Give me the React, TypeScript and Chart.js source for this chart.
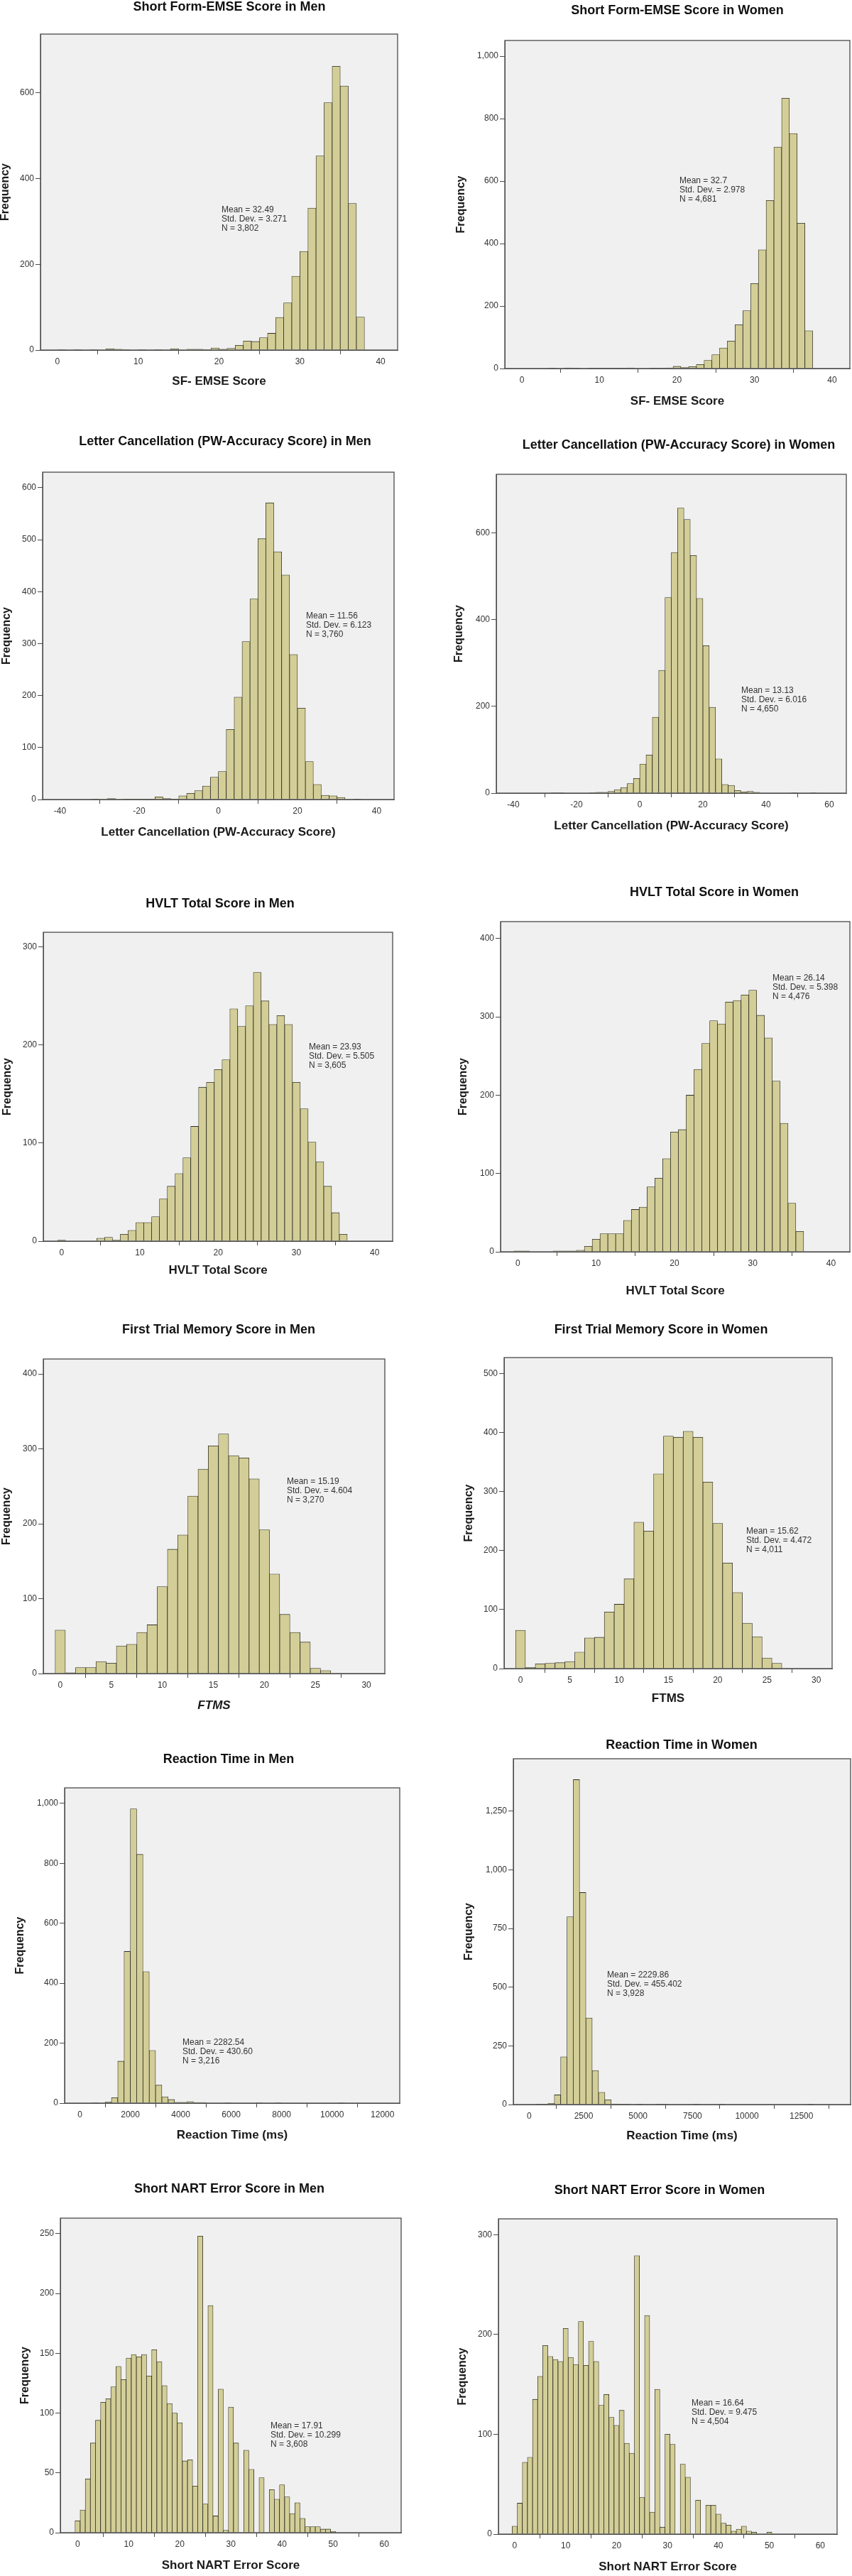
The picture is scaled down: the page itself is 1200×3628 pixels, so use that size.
import React, { useEffect, useRef } from "react";
import { Chart, registerables } from "chart.js";

Chart.register(...registerables);

const FONT = '"Liberation Sans", Arial, Helvetica, sans-serif';
const BAR_FILL = "#d3ce97";
const BAR_EDGE = "#2e2e22";
const PLOT_BG = "#f0f0f0";
const FRAME = "#4a4a4a";

// ---------------- data ----------------
// Short Form-EMSE
const sfMenBinStart = 0.5;
const sfMenBinWidth = 1;
const sfMenCounts = [1, 0, 1, 0, 1, 0, 3, 2, 1, 0, 1, 0, 1, 0, 3, 0, 2, 2, 1, 5, 2, 4, 11, 21, 20, 29, 39, 76, 110, 172, 230, 331, 453, 577, 662, 616, 342, 77];
const sfMenStats = ["Mean = 32.49", "Std. Dev. = 3.271", "N = 3,802"];
const sfMenXTicks = [0, 10, 20, 30, 40];
const sfMenYTicks = [0, 200, 400, 600];

const sfWomenBinStart = 0;
const sfWomenBinWidth = 1;
const sfWomenCounts = [0, 0, 0, 0, 1, 0, 2, 1, 0, 1, 1, 1, 1, 1, 2, 0, 0, 1, 1, 2, 7, 3, 6, 13, 26, 44, 66, 88, 140, 185, 272, 380, 538, 709, 865, 752, 465, 121];
const sfWomenStats = ["Mean = 32.7", "Std. Dev. = 2.978", "N = 4,681"];
const sfWomenXTicks = [0, 10, 20, 30, 40];
const sfWomenYTicks = [0, 200, 400, 600, 800, 1000];

// Letter Cancellation
const lcMenBinStart = -31;
const lcMenBinWidth = 2;
const lcMenCounts = [1, 0, 2, 0, 1, 1, 1, 1, 5, 2, 1, 7, 12, 17, 26, 43, 54, 135, 197, 304, 386, 502, 571, 477, 432, 279, 176, 73, 29, 8, 7, 4, 0, 1];
const lcMenStats = ["Mean = 11.56", "Std. Dev. = 6.123", "N = 3,760"];
const lcMenXTicks = [-40, -20, 0, 20, 40];
const lcMenYTicks = [0, 100, 200, 300, 400, 500, 600];

const lcWomenBinStart = -27;
const lcWomenBinWidth = 2;
const lcWomenCounts = [1, 1, 0, 0, 0, 0, 1, 2, 2, 4, 8, 13, 22, 34, 67, 88, 175, 283, 451, 555, 657, 631, 548, 449, 340, 198, 79, 20, 18, 6, 3, 4, 2, 0, 0, 0, 0, 0, 1, 0, 0, 1];
const lcWomenStats = ["Mean = 13.13", "Std. Dev. = 6.016", "N = 4,650"];
const lcWomenXTicks = [-40, -20, 0, 20, 40, 60];
const lcWomenYTicks = [0, 200, 400, 600];

// HVLT Total Score
const hvltMenBinStart = 0;
const hvltMenBinWidth = 1;
const hvltMenCounts = [1, 0, 0, 0, 0, 3, 4, 1, 7, 11, 19, 19, 25, 43, 56, 69, 85, 117, 157, 162, 175, 185, 237, 219, 240, 274, 245, 221, 230, 221, 162, 135, 101, 81, 56, 29, 7];
const hvltMenStats = ["Mean = 23.93", "Std. Dev. = 5.505", "N = 3,605"];
const hvltMenXTicks = [0, 10, 20, 30, 40];
const hvltMenYTicks = [0, 100, 200, 300];

const hvltWomenBinStart = 0;
const hvltWomenBinWidth = 1;
const hvltWomenCounts = [1, 1, 0, 0, 0, 1, 1, 1, 2, 7, 16, 23, 23, 23, 40, 54, 57, 83, 94, 119, 153, 156, 200, 233, 266, 295, 291, 319, 321, 328, 334, 302, 273, 218, 164, 62, 26];
const hvltWomenStats = ["Mean = 26.14", "Std. Dev. = 5.398", "N = 4,476"];
const hvltWomenXTicks = [0, 10, 20, 30, 40];
const hvltWomenYTicks = [0, 100, 200, 300, 400];

// First Trial Memory Score
const ftmsMenBinStart = 0;
const ftmsMenBinWidth = 1;
const ftmsMenCounts = [58, 1, 8, 8, 16, 14, 37, 39, 55, 65, 116, 166, 185, 237, 273, 304, 320, 291, 288, 260, 192, 133, 79, 55, 42, 7, 4];
const ftmsMenStats = ["Mean = 15.19", "Std. Dev. = 4.604", "N = 3,270"];
const ftmsMenXTicks = [0, 5, 10, 15, 20, 25, 30];
const ftmsMenYTicks = [0, 100, 200, 300, 400];

const ftmsWomenBinStart = 0;
const ftmsWomenBinWidth = 1;
const ftmsWomenCounts = [65, 2, 8, 9, 10, 12, 28, 52, 53, 96, 109, 152, 248, 233, 330, 394, 392, 402, 392, 316, 246, 179, 129, 77, 54, 18, 9];
const ftmsWomenStats = ["Mean = 15.62", "Std. Dev. = 4.472", "N = 4,011"];
const ftmsWomenXTicks = [0, 5, 10, 15, 20, 25, 30];
const ftmsWomenYTicks = [0, 100, 200, 300, 400, 500];

// Reaction Time (ms)
const rtMenBinStart = 125;
const rtMenBinWidth = 250;
const rtMenCounts = [0, 0, 1, 0, 4, 18, 140, 506, 982, 830, 439, 176, 60, 21, 12, 3, 3, 5, 2, 2, 0, 0, 0, 1, 0, 0, 0, 0, 1, 0, 0, 1, 0, 0, 0, 0, 0, 0, 0, 0, 0, 1];
const rtMenStats = ["Mean = 2282.54", "Std. Dev. = 430.60", "N = 3,216"];
const rtMenXTicks = [0, 2000, 4000, 6000, 8000, 10000, 12000];
const rtMenYTicks = [0, 200, 400, 600, 800, 1000];

const rtWomenBinStart = 140;
const rtWomenBinWidth = 290;
const rtWomenCounts = [0, 1, 1, 5, 41, 203, 800, 1384, 903, 369, 145, 52, 20, 3, 2, 2, 0, 1, 0, 0, 1, 1, 0, 0, 0, 0, 1, 0, 0, 0, 1, 0, 0, 0, 0, 0, 0, 0, 0, 0, 0, 0, 0, 0, 1];
const rtWomenStats = ["Mean = 2229.86", "Std. Dev. = 455.402", "N = 3,928"];
const rtWomenXTicks = [0, 2500, 5000, 7500, 10000, 12500];
const rtWomenYTicks = [0, 250, 500, 750, 1000, 1250];

// Short NART Error Score
const nartMenBinStart = 0;
const nartMenBinWidth = 1;
const nartMenCounts = [
  10, 19, 45, 75, 94, 109, 112, 122, 139, 128,
  146, 149, 147, 149, 131, 153, 143, 123, 108, 100,
  92, 60, 61, 39, 248, 24, 190, 14, 120, 2,
  105, 75, 0, 69, 53, 0, 46, 0, 36, 28,
  40, 30, 16, 25, 12, 5, 5, 5, 3, 3,
  1,
];
const nartMenStats = ["Mean = 17.91", "Std. Dev. = 10.299", "N = 3,608"];
const nartMenXTicks = [0, 10, 20, 30, 40, 50, 60];
const nartMenYTicks = [0, 50, 100, 150, 200, 250];

const nartWomenBinStart = 0;
const nartWomenBinWidth = 1;
const nartWomenCounts = [
  8, 31, 72, 77, 135, 158, 189, 178, 175, 173,
  206, 177, 170, 213, 169, 193, 173, 129, 140, 117,
  109, 124, 91, 81, 279, 37, 219, 22, 145, 7,
  100, 90, 0, 70, 57, 0, 34, 0, 29, 29,
  20, 11, 9, 3, 5, 8, 3, 2, 0, 0,
  2,
];
const nartWomenStats = ["Mean = 16.64", "Std. Dev. = 9.475", "N = 4,504"];
const nartWomenXTicks = [0, 10, 20, 30, 40, 50, 60];
const nartWomenYTicks = [0, 100, 200, 300];

// ---------------- panel table (data refs + layout) ----------------
const PANELS = [
  { title: "Short Form-EMSE Score in Men", xTitle: "SF- EMSE Score", start: sfMenBinStart, width: sfMenBinWidth, counts: sfMenCounts, stats: sfMenStats,
    xTicks: sfMenXTicks, yTicks: sfMenYTicks, xMin: -2.1, xMax: 42.1, yMax: 737,
    col: 0, box: [57, 48, 560, 493], titleX: 323, titleY: 10, xLabelY: 537, yLabelX: 8, statsX: 312, statsY: 296 },
  { title: "Short Form-EMSE Score in Women", xTitle: "SF- EMSE Score", start: sfWomenBinStart, width: sfWomenBinWidth, counts: sfWomenCounts, stats: sfWomenStats,
    xTicks: sfWomenXTicks, yTicks: sfWomenYTicks, xMin: -2.2, xMax: 42.3, yMax: 1050,
    col: 1, box: [711, 57, 1197, 519], titleX: 954, titleY: 15, xLabelY: 565, yLabelX: 650, statsX: 957, statsY: 255 },
  { title: "Letter Cancellation (PW-Accuracy Score) in Men", xTitle: "Letter Cancellation (PW-Accuracy Score)", start: lcMenBinStart, width: lcMenBinWidth, counts: lcMenCounts, stats: lcMenStats,
    xTicks: lcMenXTicks, yTicks: lcMenYTicks, xMin: -44.4, xMax: 44.4, yMax: 630,
    col: 0, box: [60, 665, 555, 1126], titleX: 317, titleY: 622, xLabelY: 1172, yLabelX: 10, statsX: 431, statsY: 868 },
  { title: "Letter Cancellation (PW-Accuracy Score) in Women", xTitle: "Letter Cancellation (PW-Accuracy Score)", start: lcWomenBinStart, width: lcWomenBinWidth, counts: lcWomenCounts, stats: lcWomenStats,
    xTicks: lcWomenXTicks, yTicks: lcWomenYTicks, xMin: -45.4, xMax: 65.4, yMax: 735,
    col: 1, box: [699, 668, 1192, 1117], titleX: 956, titleY: 627, xLabelY: 1163, yLabelX: 647, statsX: 1044, statsY: 973 },
  { title: "HVLT Total Score in Men", xTitle: "HVLT Total Score", start: hvltMenBinStart, width: hvltMenBinWidth, counts: hvltMenCounts, stats: hvltMenStats,
    xTicks: hvltMenXTicks, yTicks: hvltMenYTicks, xMin: -2.34, xMax: 42.3, yMax: 315,
    col: 0, box: [61, 1313, 553, 1748], titleX: 310, titleY: 1273, xLabelY: 1789, yLabelX: 11, statsX: 435, statsY: 1475 },
  { title: "HVLT Total Score in Women", xTitle: "HVLT Total Score", start: hvltWomenBinStart, width: hvltWomenBinWidth, counts: hvltWomenCounts, stats: hvltWomenStats,
    xTicks: hvltWomenXTicks, yTicks: hvltWomenYTicks, xMin: -2.2, xMax: 42.4, yMax: 421.6,
    col: 1, box: [705, 1298, 1197, 1763], titleX: 1006, titleY: 1257, xLabelY: 1818, yLabelX: 653, statsX: 1088, statsY: 1378 },
  { title: "First Trial Memory Score in Men", xTitle: "FTMS", xItalic: true, start: ftmsMenBinStart, width: ftmsMenBinWidth, counts: ftmsMenCounts, stats: ftmsMenStats,
    xTicks: ftmsMenXTicks, yTicks: ftmsMenYTicks, xMin: -1.66, xMax: 31.8, yMax: 420,
    col: 0, box: [61, 1914, 542, 2357], titleX: 308, titleY: 1873, xLabelY: 2402, yLabelX: 10, statsX: 404, statsY: 2087 },
  { title: "First Trial Memory Score in Women", xTitle: "FTMS", start: ftmsWomenBinStart, width: ftmsWomenBinWidth, counts: ftmsWomenCounts, stats: ftmsWomenStats,
    xTicks: ftmsWomenXTicks, yTicks: ftmsWomenYTicks, xMin: -1.66, xMax: 31.6, yMax: 527,
    col: 1, box: [710, 1912, 1172, 2350], titleX: 931, titleY: 1873, xLabelY: 2392, yLabelX: 661, statsX: 1051, statsY: 2157 },
  { title: "Reaction Time in Men", xTitle: "Reaction Time (ms)", start: rtMenBinStart, width: rtMenBinWidth, counts: rtMenCounts, stats: rtMenStats,
    xTicks: rtMenXTicks, yTicks: rtMenYTicks, xMin: -607, xMax: 12683, yMax: 1052,
    col: 0, box: [91, 2518, 563, 2962], titleX: 322, titleY: 2478, xLabelY: 3007, yLabelX: 29, statsX: 257, statsY: 2877 },
  { title: "Reaction Time in Women", xTitle: "Reaction Time (ms)", start: rtWomenBinStart, width: rtWomenBinWidth, counts: rtWomenCounts, stats: rtWomenStats,
    xTicks: rtWomenXTicks, yTicks: rtWomenYTicks, xMin: -727, xMax: 14757, yMax: 1473,
    col: 1, box: [723, 2477, 1198, 2964], titleX: 960, titleY: 2458, xLabelY: 3008, yLabelX: 661, statsX: 855, statsY: 2782 },
  { title: "Short NART Error Score in Men", xTitle: "Short NART Error Score", start: nartMenBinStart, width: nartMenBinWidth, counts: nartMenCounts, stats: nartMenStats,
    xTicks: nartMenXTicks, yTicks: nartMenYTicks, xMin: -3.37, xMax: 63.3, yMax: 263,
    col: 0, box: [85, 3124, 565, 3567], titleX: 323, titleY: 3083, xLabelY: 3613, yLabelX: 36, statsX: 381, statsY: 3417 },
  { title: "Short NART Error Score in Women", xTitle: "Short NART Error Score", start: nartWomenBinStart, width: nartWomenBinWidth, counts: nartWomenCounts, stats: nartWomenStats,
    xTicks: nartWomenXTicks, yTicks: nartWomenYTicks, xMin: -3.2, xMax: 63.3, yMax: 315.8,
    col: 1, box: [702, 3125, 1179, 3569], titleX: 929, titleY: 3085, xLabelY: 3615, yLabelX: 652, statsX: 974, statsY: 3385 },
];

function Histogram({ p }: { p: any }) {
  const ref = useRef<HTMLCanvasElement | null>(null);
  const W = 600;
  const cx0 = p.col * 600;
  const cy0 = Math.round(p.titleY - 14);
  const H = Math.round(p.xLabelY + 11) - cy0;

  useEffect(() => {
    const canvas = ref.current;
    if (!canvas) return;
    const [bl, bt, br, bb] = p.box;
    const yTitleLeft = p.yLabelX - 8;
    const padL = Math.max(0, yTitleLeft - cx0);
    const Wy = bl - cx0 - padL;
    const padT = bt - cy0;
    const padR = cx0 + W - br;
    const Hx = cy0 + H - bb;

    const points = p.counts.map((c: number, i: number) => ({ x: p.start + i * p.width, y: c }));

    const decor = {
      id: "panelDecor",
      beforeDraw(chart: any) {
        const { ctx, chartArea: a } = chart;
        ctx.save();
        ctx.fillStyle = PLOT_BG;
        ctx.fillRect(a.left, a.top, a.right - a.left, a.bottom - a.top);
        ctx.restore();
      },
      afterDraw(chart: any) {
        const { ctx, chartArea: a } = chart;
        ctx.save();
        ctx.strokeStyle = FRAME;
        ctx.lineWidth = 1.3;
        ctx.strokeRect(a.left, a.top, a.right - a.left, a.bottom - a.top);
        ctx.fillStyle = "#111";
        ctx.font = `bold 18px ${FONT}`;
        ctx.textAlign = "center";
        ctx.textBaseline = "middle";
        ctx.fillText(p.title, p.titleX - cx0, p.titleY - cy0);
        ctx.fillStyle = "#333";
        ctx.font = `12px ${FONT}`;
        ctx.textAlign = "left";
        p.stats.forEach((line: string, k: number) => {
          ctx.fillText(line, p.statsX - cx0, p.statsY - cy0 + k * 12.6);
        });
        ctx.restore();
      },
    };

    const chart = new Chart(canvas, {
      type: "bar",
      data: {
        datasets: [
          {
            data: points,
            backgroundColor: BAR_FILL,
            borderColor: BAR_EDGE,
            borderWidth: 0.8,
            barPercentage: 1,
            categoryPercentage: 1,
          },
        ],
      },
      options: {
        responsive: false,
        animation: false,
        events: [],
        layout: { autoPadding: false, padding: { left: padL, top: padT, right: padR, bottom: 0 } },
        plugins: { legend: { display: false }, tooltip: { enabled: false }, title: { display: false } },
        scales: {
          x: {
            type: "linear",
            min: p.xMin,
            max: p.xMax,
            offset: false,
            afterBuildTicks: (s: any) => {
              s.ticks = p.xTicks.map((v: number) => ({ value: v }));
            },
            grid: { display: true, drawOnChartArea: false, drawTicks: true, tickLength: 6, color: FRAME, tickColor: FRAME },
            border: { display: true, color: FRAME, width: 1 },
            ticks: {
              autoSkip: false,
              maxRotation: 0,
              minRotation: 0,
              padding: 3,
              color: "#333",
              font: { family: FONT, size: 12 },
              callback: (v: any) => String(v),
            },
            title: {
              display: true,
              text: p.xTitle,
              color: "#1a1a1a",
              padding: 0,
              font: { family: FONT, size: 17, weight: "bold", style: p.xItalic ? "italic" : "normal", lineHeight: 1.3 },
            },
            afterFit: (s: any) => {
              s.height = Hx;
            },
          },
          y: {
            type: "linear",
            min: 0,
            max: p.yMax,
            afterBuildTicks: (s: any) => {
              s.ticks = p.yTicks.map((v: number) => ({ value: v }));
            },
            grid: { display: true, drawOnChartArea: false, drawTicks: true, tickLength: 7, color: FRAME, tickColor: FRAME },
            border: { display: true, color: FRAME, width: 1 },
            ticks: {
              autoSkip: false,
              padding: 2,
              color: "#333",
              font: { family: FONT, size: 12 },
              callback: (v: any) => Number(v).toLocaleString("en-US"),
            },
            title: {
              display: true,
              text: "Frequency",
              color: "#1a1a1a",
              padding: 0,
              font: { family: FONT, size: 16, weight: "bold", lineHeight: 1 },
            },
            afterFit: (s: any) => {
              s.width = Wy;
            },
          },
        },
      },
      plugins: [decor],
    } as any);
    return () => chart.destroy();
  }, [p]);

  return (
    <canvas
      ref={ref}
      width={W}
      height={H}
      style={{ position: "absolute", left: cx0, top: cy0, width: W, height: H, display: "block" }}
    />
  );
}

export default function App() {
  return (
    <div
      style={{
        position: "absolute",
        left: 0,
        top: 0,
        width: 1200,
        height: 3628,
        background: "#ffffff",
        overflow: "hidden",
      }}
    >
      {PANELS.map((p, i) => (
        <Histogram key={i} p={p} />
      ))}
    </div>
  );
}
